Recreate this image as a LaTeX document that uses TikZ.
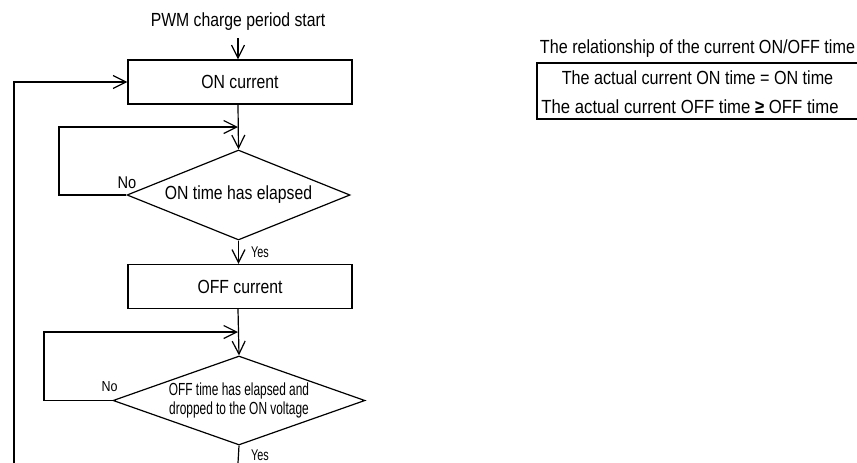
\documentclass[tikz,border=0pt]{standalone}
\usepackage{fontspec}
\setmainfont{Liberation Sans}[FakeStretch=0.83]
\newfontfamily\condf{Liberation Sans}[FakeStretch=0.68]
\newfontfamily\yesf{Liberation Sans}[FakeStretch=0.7]
\newfontfamily\nof{Liberation Sans}[FakeStretch=0.86]
\newfontfamily\tabf{Liberation Sans}[FakeStretch=0.85]
\newfontfamily\tabwf{Liberation Sans}[FakeStretch=0.88]
\usetikzlibrary{arrows.meta,shapes.geometric}
\tikzset{
  every node/.style={font=\fontsize{19}{22}\selectfont},
  lw/.style={line width=1.2pt},
  arr/.style={lw,-{Straight Barb[length=13pt,width=13pt]}},
  procbox/.style={draw,lw,minimum width=224pt,minimum height=44pt,inner sep=0pt},
  decide/.style={draw,lw,diamond,inner sep=0pt},
  yeslab/.style={font=\yesf\fontsize{15.5}{18}\selectfont,inner sep=0pt},
  tabtext/.style={font=\tabf\fontsize{19}{22}\selectfont},
}
\begin{document}
\begin{tikzpicture}[x=1pt,y=-1pt]
\useasboundingbox (0,0) rectangle (857,463);
\node (start) at (238,22) {PWM charge period start};
\coordinate (startend) at (238,38);
\node[procbox] (on) at (240,82) {ON current};
\node[decide,minimum width=223pt,minimum height=90pt,aspect=2.48] (d1) at (238.5,195) {ON time has elapsed};
\node[procbox] (off) at (240,286.5) {OFF current};
\node[decide,minimum width=252pt,minimum height=89pt,aspect=2.83,font=\condf\fontsize{17.5}{18.5}\selectfont,align=center] (d2) at (239,400.5) {OFF time has elapsed and\\dropped to the ON voltage};
% junctions
\coordinate (j1) at (238,127);
\coordinate (j2) at (238,332);
\coordinate (l1) at (59,127);
\coordinate (l2) at (44,332);
\coordinate (bot) at (238,463);
\coordinate (botl) at (14,463);
% connectors
\draw[arr] (startend) -- (on.north -| startend);
\draw[arr] (on.south -| j1) -- (d1.north);
\draw[arr] (d1.west) -| (l1) -- (j1);
\draw[arr] (d1.south) -- (off.north -| d1.south);
\draw[arr] (off.south -| j2) -- (d2.north);
\draw[arr] (d2.west) -| (l2) -- (j2);
\draw[lw] (d2.south) -- (bot);
\draw[arr] (botl) |- (on.west);
% labels
\node[inner sep=0pt,font=\nof\fontsize{17}{20}\selectfont] (no1) at (127,183) {No};
\node[inner sep=0pt,font=\nof\fontsize{14.5}{17}\selectfont] (no2) at (109.5,387) {No};
\node[yeslab] (yes1) at (260,252) {Yes};
\node[yeslab] (yes2) at (260,455) {Yes};
% table
\node[tabtext] (ttl) at (697.5,49) {The relationship of the current ON/OFF time};
\coordinate (tl) at (537,63);
\coordinate (tr) at (858,63);
\coordinate (bl) at (537,119);
\coordinate (br) at (858,119);
\draw[lw] (tr) -- (tl) -- (bl) -- (br);
\node[tabtext] (r1) at (697.5,78) {The actual current ON time = ON time};
\node[tabtext,font=\tabwf\fontsize{19}{22}\selectfont] (r2) at (690,107) {The actual current OFF time {\bfseries ≥} OFF time};
\end{tikzpicture}
\end{document}
